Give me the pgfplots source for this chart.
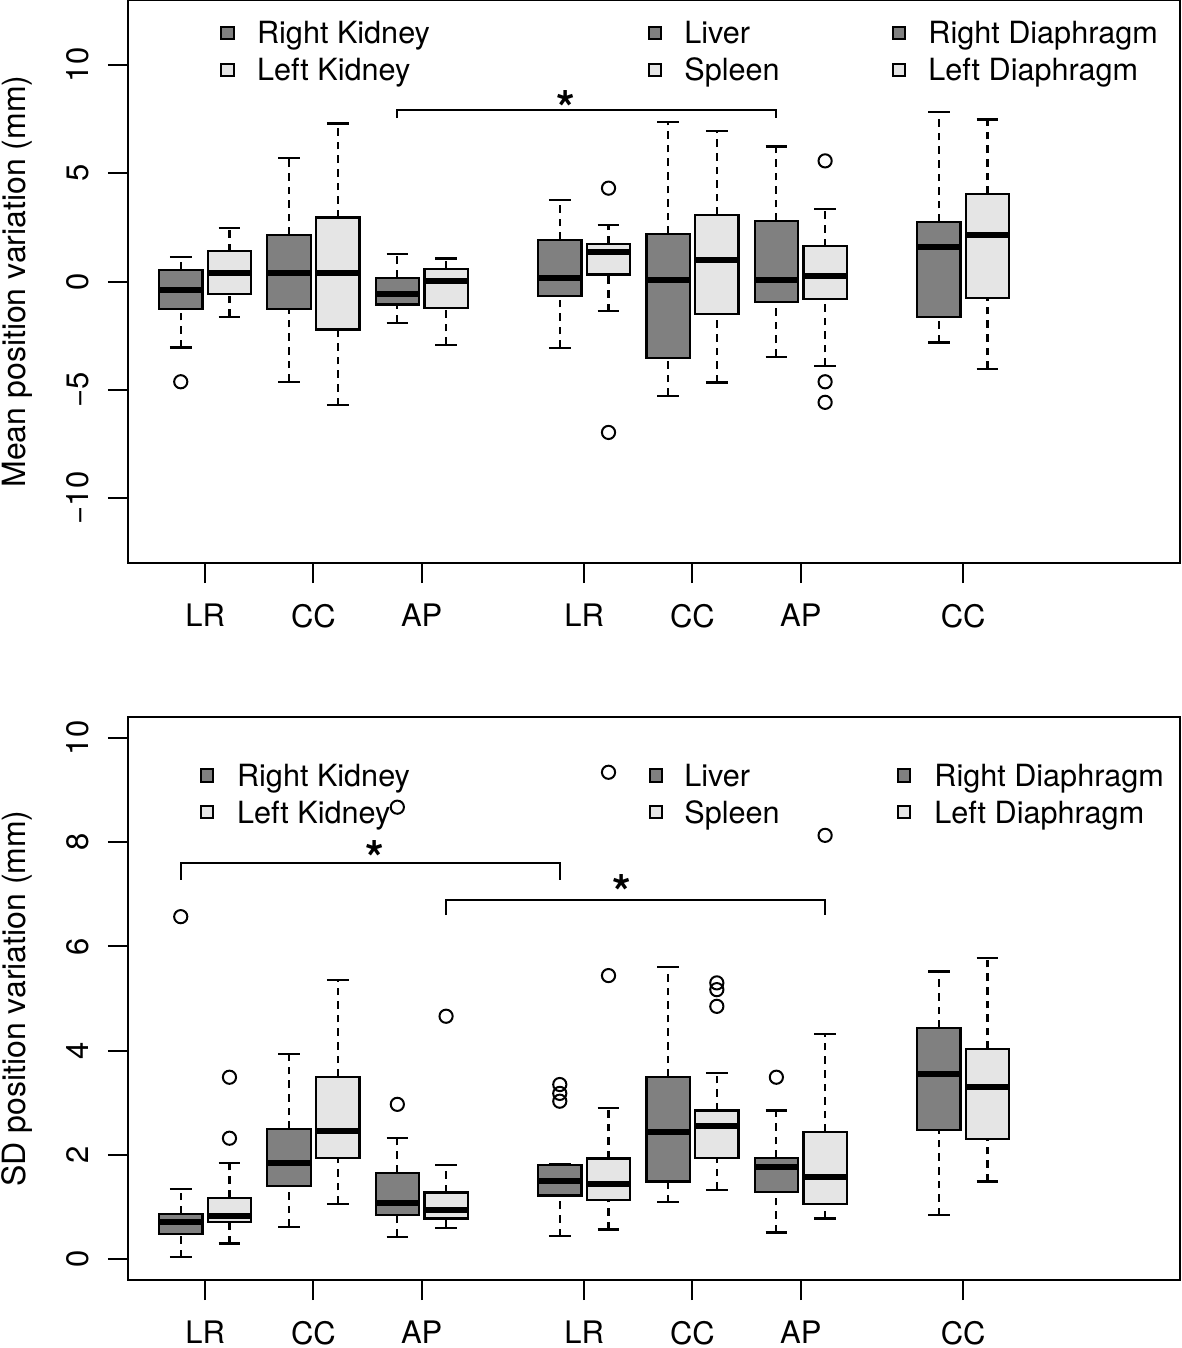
\documentclass[border=0pt]{standalone}
\usepackage{fontspec}
\setmainfont{TeX Gyre Heros}
\usepackage{pgfplots}
\pgfplotsset{compat=1.18}
\definecolor{dk}{gray}{0.5}
\definecolor{lt}{gray}{0.898}
\newcommand\tkfont{\fontsize{15.5}{18.6}\selectfont}
\newcommand\ylfont{\fontsize{16}{19.2}\selectfont}
\newcommand\lgfont{\fontsize{15.3}{18}\selectfont}
\pgfplotsset{
  wsk/.style={black, line width=1.1pt, dash pattern=on 3.8pt off 3pt},
  stp/.style={black, line width=1.1pt, solid},
  outl/.style={black, only marks, mark=o, mark size=3.3pt, line width=1pt},
  panel/.style={
    scale only axis, width=526pt, height=281.5pt,
    xmin=-0.424, xmax=19.004, clip=false,
    axis line style={line width=1pt},
    tick style={line width=1pt, black},
    tick align=outside, major tick length=10pt, tick pos=left,
    xtick={1,3,5,8,10,12,15}, xticklabels={LR,CC,AP,LR,CC,AP,CC},
    xticklabel style={anchor=north, inner sep=0pt, text depth=0pt, font=\tkfont},
    xticklabel shift=10.3pt,
    yticklabel style={rotate=90, anchor=south, inner sep=0pt, font=\tkfont},
    yticklabel shift=9.5pt,
    ylabel style={at={(axis description cs:-0.1202,0.5)}, anchor=north, inner sep=0pt, font=\ylfont},
  }
}
% box: center, colour, lower whisker, q1, median, q3, upper whisker
\newcommand{\bx}[7]{%
  \pgfmathsetmacro\bl{#1-0.4}\pgfmathsetmacro\br{#1+0.4}%
  \pgfmathsetmacro\sl{#1-0.2}\pgfmathsetmacro\sr{#1+0.2}%
  \addplot[wsk] coordinates {(#1,#3) (#1,#4)};
  \addplot[wsk] coordinates {(#1,#6) (#1,#7)};
  \addplot[stp] coordinates {(\sl,#3) (\sr,#3)};
  \addplot[stp] coordinates {(\sl,#7) (\sr,#7)};
  \addplot[fill=#2, draw=black, line width=1.1pt] coordinates {(\bl,#4) (\br,#4) (\br,#6) (\bl,#6)} -- cycle;
  \addplot[black, line width=3pt] coordinates {(\bl,#5) (\br,#5)};
}
\newcommand{\lgd}[5]{%
  \node[draw=black, fill=#3, line width=1pt, minimum size=6.2pt, inner sep=0pt] at (#1pt,#2pt) {};
  \node[anchor=base west, inner sep=0pt, font=\lgfont] at (#4pt,#2pt-5.5pt) {#5};
}
\begin{document}
\begin{tikzpicture}
% ---------------- top panel ----------------
\begin{axis}[panel, at={(64pt,-281.5pt)}, anchor=south west,
  ymin=-13, ymax=13, ytick={-10,-5,0,5,10}, yticklabels={−10,−5,0,5,10},
  ylabel={Mean position variation (mm)}]
\bx{0.55}{dk}{-3.05}{-1.26}{-0.38}{0.54}{1.12}
\bx{1.45}{lt}{-1.63}{-0.57}{0.41}{1.40}{2.47}
\bx{2.55}{dk}{-4.63}{-1.26}{0.38}{2.15}{5.69}
\bx{3.45}{lt}{-5.71}{-2.22}{0.38}{2.96}{7.30}
\bx{4.55}{dk}{-1.90}{-1.06}{-0.58}{0.18}{1.26}
\bx{5.45}{lt}{-2.93}{-1.23}{0.02}{0.58}{1.06}
\bx{7.55}{dk}{-3.07}{-0.67}{0.14}{1.93}{3.76}
\bx{8.45}{lt}{-1.37}{0.32}{1.35}{1.75}{2.62}
\bx{9.55}{dk}{-5.28}{-3.54}{0.05}{2.19}{7.38}
\bx{10.45}{lt}{-4.66}{-1.50}{0.98}{3.07}{6.95}
\bx{11.55}{dk}{-3.47}{-0.94}{0.09}{2.79}{6.23}
\bx{12.45}{lt}{-3.90}{-0.80}{0.25}{1.63}{3.36}
\bx{14.55}{dk}{-2.82}{-1.63}{1.60}{2.75}{7.81}
\bx{15.45}{lt}{-4.03}{-0.75}{2.16}{4.05}{7.48}
\addplot[outl] coordinates {(0.55,-4.63) (8.45,4.31) (8.45,-6.97) (12.45,5.57) (12.45,-4.63) (12.45,-5.58)};
\addplot[black, line width=1pt] coordinates {(4.55,7.55) (4.55,7.9) (11.55,7.9) (11.55,7.55)};
\node[anchor=base, inner sep=0pt, font=\fontsize{24}{24}\selectfont\bfseries] at (axis cs:7.665,7.22) {*};
\end{axis}
% ---------------- bottom panel ----------------
\begin{axis}[panel, at={(64pt,-640pt)}, anchor=south west,
  ymin=-0.4, ymax=10.4, ytick={0,2,4,6,8,10}, yticklabels={0,2,4,6,8,10},
  ylabel={SD position variation (mm)}]
\bx{0.55}{dk}{0.035}{0.49}{0.71}{0.87}{1.35}
\bx{1.45}{lt}{0.30}{0.71}{0.82}{1.18}{1.84}
\bx{2.55}{dk}{0.62}{1.41}{1.84}{2.50}{3.94}
\bx{3.45}{lt}{1.06}{1.94}{2.45}{3.50}{5.35}
\bx{4.55}{dk}{0.43}{0.85}{1.08}{1.66}{2.33}
\bx{5.45}{lt}{0.60}{0.78}{0.94}{1.28}{1.81}
\bx{7.55}{dk}{0.44}{1.22}{1.49}{1.80}{1.82}
\bx{8.45}{lt}{0.57}{1.13}{1.45}{1.93}{2.90}
\bx{9.55}{dk}{1.09}{1.49}{2.44}{3.50}{5.60}
\bx{10.45}{lt}{1.33}{1.94}{2.55}{2.85}{3.57}
\bx{11.55}{dk}{0.51}{1.29}{1.76}{1.94}{2.85}
\bx{12.45}{lt}{0.78}{1.06}{1.57}{2.44}{4.32}
\bx{14.55}{dk}{0.84}{2.48}{3.55}{4.44}{5.52}
\bx{15.45}{lt}{1.49}{2.30}{3.30}{4.03}{5.77}
\addplot[outl] coordinates {(0.55,6.57) (1.45,3.49) (1.45,2.32) (4.55,2.97) (4.55,8.67) (5.45,4.66)
  (7.55,3.03) (7.55,3.18) (7.55,3.35) (8.45,5.44) (8.45,9.34) (10.45,4.85) (10.45,5.17) (10.45,5.30)
  (11.55,3.49) (12.45,8.13)};
\addplot[black, line width=1pt] coordinates {(0.55,7.28) (0.55,7.60) (7.55,7.60) (7.55,7.28)};
\addplot[black, line width=1pt] coordinates {(5.45,6.60) (5.45,6.89) (12.45,6.89) (12.45,6.60)};
\node[anchor=base, inner sep=0pt, font=\fontsize{24}{24}\selectfont\bfseries] at (axis cs:4.14,7.355) {*};
\node[anchor=base, inner sep=0pt, font=\fontsize{24}{24}\selectfont\bfseries] at (axis cs:8.693,6.70) {*};
\end{axis}
% ---------------- legends ----------------
\lgd{113.75}{-16.5}{dk}{128.35}{Right Kidney}
\lgd{113.75}{-35}{lt}{128.35}{Left Kidney}
\lgd{327.5}{-16.5}{dk}{342}{Liver}
\lgd{327.5}{-35}{lt}{342}{Spleen}
\lgd{449.5}{-16.5}{dk}{464}{Right Diaphragm}
\lgd{449.5}{-35}{lt}{464}{Left Diaphragm}
\lgd{103.35}{-387.75}{dk}{118.35}{Right Kidney}
\lgd{103.35}{-406}{lt}{118.35}{Left Kidney}
\lgd{328}{-387.75}{dk}{342}{Liver}
\lgd{328}{-406}{lt}{342}{Spleen}
\lgd{452}{-387.75}{dk}{467}{Right Diaphragm}
\lgd{452}{-406}{lt}{467}{Left Diaphragm}
\pgfresetboundingbox
\path[use as bounding box] (0,0) rectangle (591pt,-674pt);
\end{tikzpicture}
\end{document}
